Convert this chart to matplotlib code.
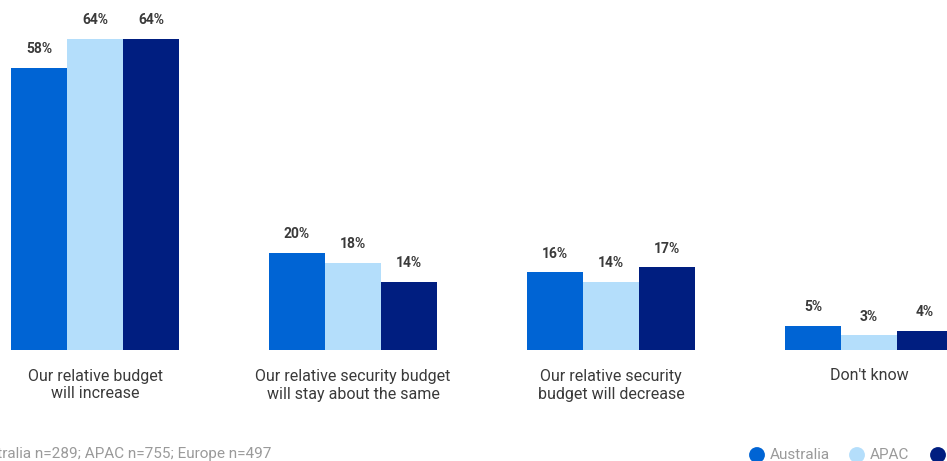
import matplotlib
matplotlib.use("Agg")
import matplotlib.pyplot as plt
import numpy as np

categories = [
    "Our relative budget\nwill increase",
    "Our relative security budget\nwill stay about the same",
    "Our relative security\nbudget will decrease",
    "Don't know",
]
series_names = ["Australia", "APAC", "Europe"]
australia = [58, 20, 16, 5]
apac = [64, 18, 14, 3]
europe = [64, 14, 17, 4]
sample_note = "Australia n=289; APAC n=755; Europe n=497"

colors = ["#0064D4", "#B4DEFB", "#001E80"]
label_color = "#3a3a3a"
note_color = "#9a9a9a"

plt.rcParams["font.family"] = ["Roboto", "DejaVu Sans"]

W, H = 947, 461
fig = plt.figure(figsize=(W / 100, H / 100), dpi=100)
ax = fig.add_axes([0, 0, 1, 1])

# pixel geometry of the plotting region
group_px = 258.0      # distance between group centres
center0_px = 95.0     # centre of first group
base_px = 350.0       # baseline from top
pct_px = 4.86         # pixels per percent
bar_w = 56.0 / group_px

x = np.arange(len(categories))
for i, (vals, c) in enumerate(zip([australia, apac, europe], colors)):
    pos = x + (i - 1) * bar_w
    bars = ax.bar(pos, vals, width=bar_w, color=c, edgecolor="none")
    for b, v in zip(bars, vals):
        ax.text(b.get_x() + b.get_width() / 2, v + 2.4, f"{v}%",
                ha="center", va="bottom", fontsize=10, fontweight="bold",
                color=label_color)

ax.set_xlim(-center0_px / group_px, (W - center0_px) / group_px)
ax.set_ylim(-(H - base_px) / pct_px, base_px / pct_px)
ax.axis("off")

# category labels under each group, one line at a time
line_px = [376, 394]
for xi, cat in zip(x, categories):
    for line, ypx in zip(cat.split("\n"), line_px):
        ax.text(xi, -(ypx - base_px) / pct_px, line, ha="center",
                va="center", fontsize=11.5, color=label_color)

# overlay in pixel coordinates for footnote and legend
ov = fig.add_axes([0, 0, 1, 1], facecolor="none")
ov.set_xlim(0, W)
ov.set_ylim(H, 0)
ov.axis("off")

ov.text(271, 454, sample_note, ha="right", va="center", fontsize=11,
        color=note_color)

legend_x = [757, 857, 938]
for lx, name, c in zip(legend_x, series_names, colors):
    ov.scatter([lx], [455], s=130, color=c, edgecolor="none")
    ov.text(lx + 13, 455, name, ha="left", va="center", fontsize=11,
            color=note_color)

fig.savefig("out.png", dpi=100)
